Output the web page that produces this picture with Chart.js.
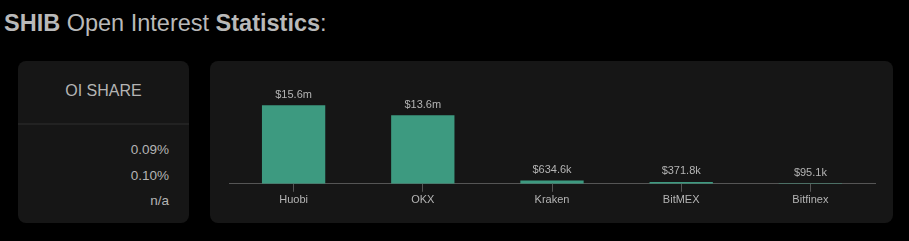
<!DOCTYPE html>
<html>
<head>
<meta charset="utf-8">
<script src="https://cdn.jsdelivr.net/npm/chart.js@4/dist/chart.umd.min.js"></script>
<style>
    html, body { margin: 0; padding: 0; background: #000; width: 909px; height: 241px; overflow: hidden; }
    body { font-family: "Liberation Sans", Arial, sans-serif; color: #b4b4b4; position: relative; }
    #judul { position: absolute; left: 4px; top: 10px; font-size: 23.5px; color: #b9b9b9; white-space: nowrap; }
    #judul b { font-weight: 700; }
    .kartu { position: absolute; background: #161616; border-radius: 8px; }
    #kiri { left: 18px; top: 61px; width: 171px; height: 162px; }
    #kiri .kepala { height: 62px; border-bottom: 2px solid #222; text-align: center; font-size: 16px; line-height: 60px; color: #b4b4b4; }
    #kiri .isi { padding-top: 14px; text-align: right; padding-right: 20px; font-size: 13.5px; color: #b4b4b4; }
    #kiri .isi div { height: 25.5px; line-height: 22px; }
    #kanan { left: 210px; top: 61px; width: 683px; height: 162px; }
</style>
</head>
<body>
<div id="judul"><b>SHIB</b> Open Interest <b>Statistics</b>:</div>
<div class="kartu" id="kiri">
    <div class="kepala">OI SHARE</div>
    <div class="isi" id="daftarShare"></div>
</div>
<div class="kartu" id="kanan">
    <canvas id="grafikOI" width="683" height="162"></canvas>
</div>
<script>
// Data bursa & open interest (USD)
const bursa = ["Huobi", "OKX", "Kraken", "BitMEX", "Bitfinex"];
const nilaiOI = [15600000, 13600000, 634600, 371800, 95100];
const labelNilai = ["$15.6m", "$13.6m", "$634.6k", "$371.8k", "$95.1k"];
const sharePersen = ["0.09%", "0.10%", "n/a"];

// Isi kartu kiri
document.getElementById("daftarShare").innerHTML =
    sharePersen.map(s => `<div>${s}</div>`).join("");

// Plugin label di atas batang
const labelAtas = {
    id: "labelAtas",
    afterDatasetsDraw(chart) {
        const ctx = chart.ctx;
        const meta = chart.getDatasetMeta(0);
        ctx.save();
        ctx.font = "11px 'Liberation Sans', Arial, sans-serif";
        ctx.fillStyle = "#b4b4b4";
        ctx.textAlign = "center";
        ctx.textBaseline = "bottom";
        meta.data.forEach((bar, i) => {
            ctx.fillText(labelNilai[i], bar.x, bar.y - 5);
        });
        ctx.restore();
    }
};

const ctx = document.getElementById("grafikOI").getContext("2d");
new Chart(ctx, {
    type: "bar",
    data: {
        labels: bursa,
        datasets: [{
            data: nilaiOI,
            backgroundColor: "#3d9a80",
            borderWidth: 0,
            barPercentage: 0.49,
            categoryPercentage: 1
        }]
    },
    options: {
        responsive: false,
        animation: false,
        layout: { padding: { left: 19, right: 18, top: 22, bottom: 14 } },
        plugins: { legend: { display: false }, tooltip: { enabled: false } },
        scales: {
            x: {
                grid: { offset: false, drawOnChartArea: false, drawTicks: true, tickLength: 8, color: "#555" },
                border: { color: "#555", width: 1 },
                ticks: { color: "#b4b4b4", padding: 2, font: { family: "'Liberation Sans', Arial, sans-serif", size: 11 } }
            },
            y: {
                display: false,
                min: 0,
                max: 20000000
            }
        }
    },
    plugins: [labelAtas]
});
</script>
</body>
</html>
